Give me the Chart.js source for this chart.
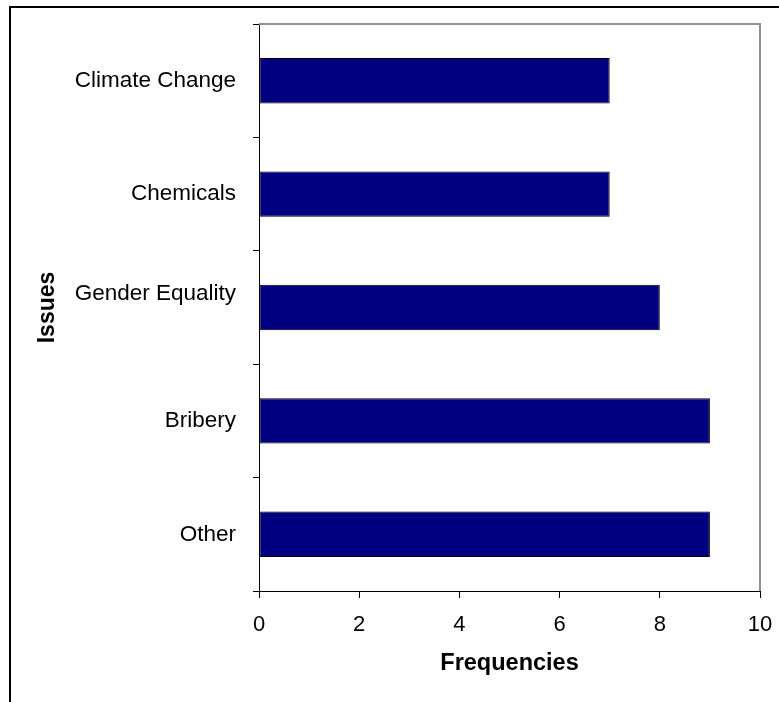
<!DOCTYPE html>
<html>
<head>
<meta charset="utf-8">
<title>Issues by frequency</title>
<script src="https://cdn.jsdelivr.net/npm/chart.js@4/dist/chart.umd.min.js"></script>
<style>
  html, body { margin: 0; padding: 0; background: #ffffff; }
  #wrap { width: 779px; height: 702px; }
</style>
</head>
<body>
<div id="wrap"><canvas id="chart" width="779" height="702"></canvas></div>
<script>
// Issues listed top to bottom, with how often each one came up
const categories = ['Climate Change', 'Chemicals', ['Gender Equality', ''], 'Bribery', 'Other'];
const frequencies = [7, 7, 8, 9, 9];
const xTickValues = [0, 2, 4, 6, 8, 10];

const FONT = "'Liberation Sans', Arial, Helvetica, sans-serif";

// Outer frame around the whole figure and grey outline of the plot area
const framePlugin = {
  id: 'frames',
  beforeDraw(chart) {
    const ctx = chart.ctx;
    ctx.save();
    ctx.fillStyle = '#ffffff';
    ctx.fillRect(0, 0, chart.width, chart.height);
    ctx.strokeStyle = '#000000';
    ctx.lineWidth = 2;
    ctx.beginPath();
    ctx.moveTo(10, chart.height);
    ctx.lineTo(10, 7);
    ctx.lineTo(chart.width, 7);
    ctx.stroke();
    ctx.restore();
  },
  beforeDatasetsDraw(chart) {
    const { ctx, chartArea: a } = chart;
    ctx.save();
    ctx.strokeStyle = '#8f8f8f';
    ctx.lineWidth = 2;
    ctx.beginPath();
    ctx.moveTo(a.left, a.top);
    ctx.lineTo(a.right, a.top);
    ctx.lineTo(a.right, a.bottom);
    ctx.stroke();
    ctx.restore();
  }
};

// Keep the plot area where the layout padding puts it
function noEdgePadding(scale) {
  scale.paddingTop = 0;
  scale.paddingBottom = 0;
  scale.paddingLeft = 0;
  scale.paddingRight = 0;
}

new Chart(document.getElementById('chart'), {
  type: 'bar',
  data: {
    labels: categories,
    datasets: [{
      label: 'Frequencies',
      data: frequencies,
      backgroundColor: '#000080',
      borderColor: '#000000',
      borderWidth: 1,
      borderSkipped: false,
      categoryPercentage: 1.0,
      barPercentage: 0.4
    }]
  },
  options: {
    indexAxis: 'y',
    responsive: false,
    animation: false,
    layout: { padding: { left: 0, top: 24, right: 19, bottom: 0 } },
    plugins: {
      legend: { display: false },
      tooltip: { enabled: false }
    },
    scales: {
      y: {
        type: 'category',
        offset: true,
        grid: {
          offset: true,
          drawOnChartArea: false,
          drawTicks: true,
          tickLength: 6,
          color: '#000000',
          lineWidth: 1
        },
        border: { display: true, color: '#000000', width: 1 },
        ticks: {
          color: '#000000',
          font: { family: FONT, size: 22.5 },
          padding: 17,
          autoSkip: false
        },
        title: {
          display: true,
          text: 'Issues',
          color: '#000000',
          font: { family: FONT, size: 23, weight: 'bold' },
          padding: { top: 34, bottom: 0 }
        },
        afterFit(scale) { scale.width = 259; noEdgePadding(scale); }
      },
      x: {
        type: 'linear',
        min: 0,
        max: 10,
        afterBuildTicks(scale) { scale.ticks = xTickValues.map(v => ({ value: v })); },
        grid: {
          drawOnChartArea: false,
          drawTicks: true,
          tickLength: 7,
          color: '#000000',
          lineWidth: 1
        },
        border: { display: true, color: '#000000', width: 1 },
        ticks: {
          color: '#000000',
          font: { family: FONT, size: 22 },
          padding: 14,
          maxRotation: 0
        },
        title: {
          display: true,
          text: 'Frequencies',
          color: '#000000',
          font: { family: FONT, size: 23.5, weight: 'bold' },
          padding: { top: 0, bottom: 24 }
        },
        afterFit(scale) { scale.height = 111; noEdgePadding(scale); }
      }
    }
  },
  plugins: [framePlugin]
});
</script>
</body>
</html>
